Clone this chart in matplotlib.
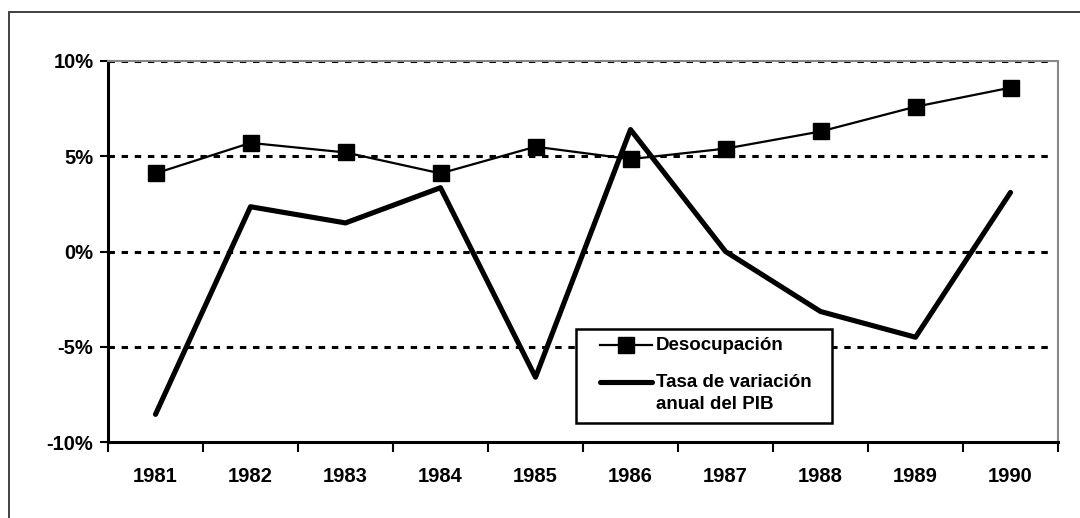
import matplotlib
matplotlib.use('Agg')
import matplotlib.pyplot as plt
from matplotlib.patches import Rectangle
from matplotlib.lines import Line2D
from matplotlib.ticker import FixedLocator, FuncFormatter

years = ['1981', '1982', '1983', '1984', '1985', '1986', '1987', '1988', '1989', '1990']
desocupacion = [4.1, 5.7, 5.2, 4.1, 5.5, 4.85, 5.4, 6.3, 7.6, 8.6]
pib = [-8.55, 2.35, 1.5, 3.35, -6.6, 6.4, 0.0, -3.15, -4.5, 3.1]
y_ticks = [-10, -5, 0, 5, 10]
legend_labels = ['Desocupación', 'Tasa de variación\nanual del PIB']

plt.rcParams['font.family'] = ['Liberation Sans', 'DejaVu Sans']
plt.rcParams['font.weight'] = 'bold'

W, H = 1080, 518
fig = plt.figure(figsize=(W / 100, H / 100), dpi=100)
ax = fig.add_axes([108 / W, 1 - 442 / H, 950 / W, 381 / H])

x = list(range(len(years)))

desoc_style = dict(color='black', lw=1.6, marker='s', markersize=11)
pib_style = dict(color='black', lw=3.7, solid_capstyle='round')

# gridlines
for v in [-5, 0, 5, 10]:
    ax.plot([-0.5, 9.4], [v, v], color='black', lw=2.2, ls=(0, (2.1, 2.2)), zorder=1)

ax.plot(x, desocupacion, zorder=3, **desoc_style)
ax.plot(x, pib, zorder=2, **pib_style)

ax.set_xlim(-0.5, 9.5)
ax.set_ylim(-10, 10)

ax.xaxis.set_major_locator(FixedLocator([i - 0.5 for i in range(11)]))
ax.xaxis.set_minor_locator(FixedLocator(x))
ax.set_xticklabels([])
ax.set_xticklabels(years, minor=True)
ax.tick_params(axis='x', which='major', length=7, width=1.5, direction='out')
ax.tick_params(axis='x', which='minor', length=0, pad=18, labelsize=14.5)

ax.set_yticks(y_ticks)
ax.yaxis.set_major_formatter(FuncFormatter(lambda v, p: f'{int(v)}%'))
ax.tick_params(axis='y', length=6, width=1.5, direction='out', labelsize=14.5, pad=4.5)

for s in ['left', 'bottom']:
    ax.spines[s].set_linewidth(2.2)
    ax.spines[s].set_color('black')
for s in ['top', 'right']:
    ax.spines[s].set_linewidth(1.5)
    ax.spines[s].set_color('#888888')

# legend, laid out by hand (handle sits next to the first text line)
def fx(px):
    return px / W

def fy(py):
    return 1 - py / H

ax.add_patch(Rectangle((fx(576), fy(423)), 256 / W, 94 / H,
                       transform=fig.transFigure, facecolor='white',
                       edgecolor='black', lw=1.8, zorder=4, clip_on=False))
fig.add_artist(Line2D([fx(600), fx(652)], [fy(345), fy(345)], color='black', lw=1.6, zorder=5))
fig.add_artist(Line2D([fx(626)], [fy(345)], color='black', marker='s', markersize=11, zorder=5))
fig.add_artist(Line2D([fx(600), fx(652)], [fy(382), fy(382)], zorder=5, **pib_style))
fig.text(fx(656), fy(345), legend_labels[0], fontsize=13.5, va='center', ha='left')
fig.text(fx(656), fy(374), legend_labels[1], fontsize=13.5, va='top', ha='left',
         linespacing=1.38)

# outer frame of the chart area
fig.patches.append(Rectangle((9 / W, -0.1), 1.2, 1 - 12 / H + 0.1,
                             transform=fig.transFigure, fill=False,
                             edgecolor='#333333', lw=1.3))

fig.savefig('out.png', dpi=100)
